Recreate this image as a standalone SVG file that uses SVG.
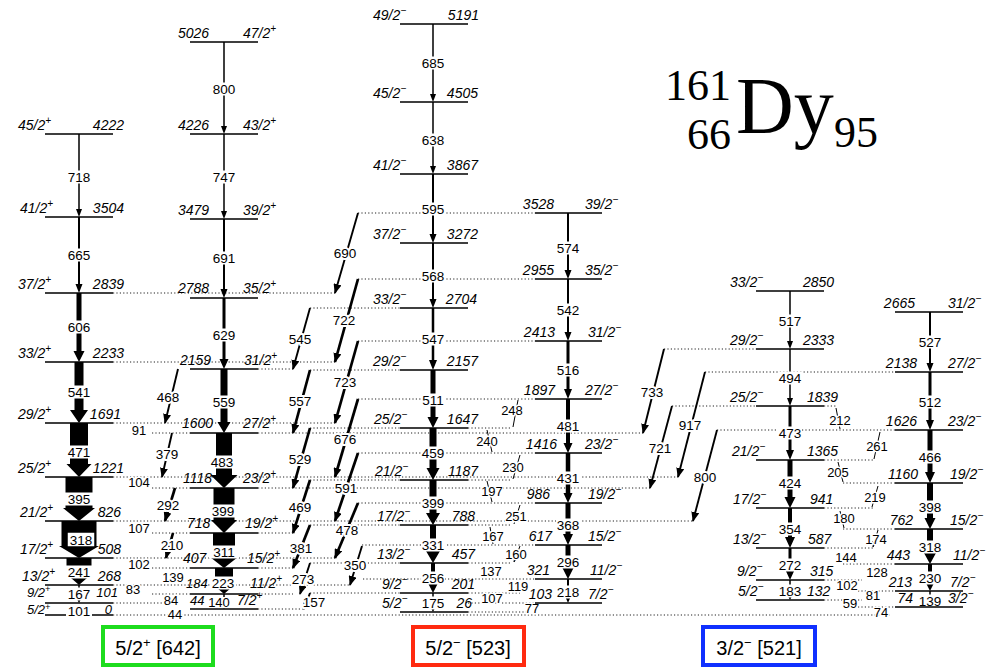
<svg xmlns="http://www.w3.org/2000/svg" width="990" height="667" viewBox="0 0 990 667">
<defs>
<marker id="ah" viewBox="0 0 10 8" refX="9" refY="4" markerWidth="10" markerHeight="8" markerUnits="userSpaceOnUse" orient="auto"><path d="M0,0L10,4L0,8z"/></marker>
<marker id="as" viewBox="0 0 10 8" refX="9" refY="4" markerWidth="6" markerHeight="5" markerUnits="userSpaceOnUse" orient="auto"><path d="M0,0L10,4L0,8z"/></marker>
<style>
.lv{stroke:#000;stroke-width:1.6;fill:none}
.dt{stroke:#222;stroke-width:1;stroke-dasharray:1.2 2.2;fill:none}
.e1{stroke:#000;stroke-width:1.9;fill:none;marker-end:url(#ah)}
.e1t{stroke:#000;stroke-width:2.7;fill:none;marker-end:url(#ah)}
.tk{stroke:#000;stroke-width:1;fill:none;marker-end:url(#as)}
.wb{fill:#fff}
text{font-family:"Liberation Sans",Arial,sans-serif;fill:#000}
.en{font-size:14px;font-style:italic}
.sp{font-size:14px;font-style:italic}
.tl{font-size:13.5px;text-anchor:middle}
.el{font-size:13.5px;text-anchor:middle;stroke:#fff;stroke-width:4;paint-order:stroke;stroke-linejoin:round}
.sm{font-size:13px;text-anchor:middle;stroke:#fff;stroke-width:3;paint-order:stroke;stroke-linejoin:round}
.end{text-anchor:end}
.ti{font-family:"Liberation Serif","Times New Roman",serif}
.bx{fill:none;stroke-width:4}
.bt{font-size:20px;text-anchor:middle}
</style>
</defs>
<rect width="990" height="667" fill="#fff"/>

<g id="connectors">
<path class="dt" d="M113 293H335M113 362H335M113 423H335M113 477H678M113 521H693M113 558H335M113 585H350M113 603H165M113 615H890
M152 433H190M152 488H190M152 533H190M152 568H190M152 594H190
M258 369H293M258 433H643M258 488H650M258 533H293M258 568H293M258 594H293M258 609H304
M310 308H400M310 370H400M310 428H400M310 480H400M310 525H400M310 563H400M310 593H400
M468 428H512M468 480H512M468 525H512M468 563H512M468 593H520M468 612H528
M358 213H535M358 279H535M358 341H535M358 399H535M358 453H535M358 503H535M362 545H535M363 579H535M468 603H535
M664 349H756M672 406H756
M705 372H895M717 430H895M843 483H895M843 529H895M843 564H895M858 591H895M858 607H895
M824 406H836M824 460H873M824 508H873M824 548H873M824 580H862M824 600H862"/>

<!-- band 1 transitions -->
<polygon points="78.25,134 79.75,134 79.75,209 82,209 79,217 76,209 78.25,209"/>
<polygon points="78,217 80,217 80,284 82.5,284 79,293 75.5,284 78,284"/>
<polygon points="76.5,293 81.5,293 81.5,351 84.5,351 79,362 73.5,351 76.5,351"/>
<polygon points="74.5,362 83.5,362 83.5,410 88,410 79,423 70,410 74.5,410"/>
<polygon points="70,423 88,423 88,464 91.5,464 79,477 66.5,464 70,464"/>
<polygon points="65.5,477 92.5,477 92.5,508 95,508 79,521 63,508 65.5,508"/>
<polygon points="61.5,521 96.5,521 96.5,546 99,546 79,558 59,546 61.5,546"/>
<polygon points="66.5,558 91.5,558 91.5,578 87,578 79,585 71,578 66.5,578"/>
<polygon points="78.25,585 79.75,585 79.75,597 82,597 79,603 76,597 78.25,597"/>
<!-- band 2 transitions -->
<polygon points="223.25,42 224.75,42 224.75,126 227,126 224,134 221,126 223.25,126"/>
<polygon points="223.25,134 224.75,134 224.75,211 227,211 224,219 221,211 223.25,211"/>
<polygon points="223,219 225,219 225,289 227.5,289 224,298 220.5,289 223,289"/>
<polygon points="222.5,298 225.5,298 225.5,359 228.5,359 224,369 219.5,359 222.5,359"/>
<polygon points="220.5,369 227.5,369 227.5,422 230.5,422 224,433 217.5,422 220.5,422"/>
<polygon points="216,433 232,433 232,475 237.5,475 224,488 210.5,475 216,475"/>
<polygon points="213.5,488 234.5,488 234.5,520 237,520 224,533 211,520 213.5,520"/>
<polygon points="213,533 235,533 235,557 238,557 224,568 210,557 213,557"/>
<polygon points="215,568 233,568 233,587 232,587 224,594 216,587 215,587"/>
<polygon points="223.25,594 224.75,594 224.75,604 226.5,604 224,609 221.5,604 223.25,604"/>
<!-- band 3 transitions -->
<polygon points="432.25,24 433.75,24 433.75,94 436,94 433,102 430,94 432.25,94"/>
<polygon points="432.25,102 433.75,102 433.75,166 436,166 433,174 430,166 432.25,166"/>
<polygon points="432,174 434,174 434,234 436.5,234 433,243 429.5,234 432,234"/>
<polygon points="432,243 434,243 434,299 436.5,299 433,308 429.5,299 432,299"/>
<polygon points="431.75,308 434.25,308 434.25,360 437,360 433,370 429,360 431.75,360"/>
<polygon points="430.5,370 435.5,370 435.5,417 438.5,417 433,428 427.5,417 430.5,417"/>
<polygon points="429.5,428 436.5,428 436.5,468 439.5,468 433,480 426.5,468 429.5,468"/>
<polygon points="429.5,480 436.5,480 436.5,513 440,513 433,525 426,513 429.5,513"/>
<polygon points="430,525 436,525 436,551 440,551 433,563 426,551 430,551"/>
<polygon points="431,563 435,563 435,584 437.5,584 433,593 428.5,584 431,584"/>
<polygon points="432.25,593 433.75,593 433.75,607 435.5,607 433,612 430.5,607 432.25,607"/>
<!-- band 4 transitions -->
<polygon points="567,213 569,213 569,270 571.5,270 568,279 564.5,270 567,270"/>
<polygon points="567,279 569,279 569,332 571.5,332 568,341 564.5,332 567,332"/>
<polygon points="566.5,341 569.5,341 569.5,389 572,389 568,399 564,389 566.5,389"/>
<polygon points="566,399 570,399 570,443 572.5,443 568,453 563.5,443 566,443"/>
<polygon points="565.75,453 570.25,453 570.25,493 572.5,493 568,503 563.5,493 565.75,493"/>
<polygon points="565.5,503 570.5,503 570.5,534 573,534 568,545 563,534 565.5,534"/>
<polygon points="565.5,545 570.5,545 570.5,568 573.5,568 568,579 562.5,568 565.5,568"/>
<polygon points="567,579 569,579 569,596 571,596 568,603 565,596 567,596"/>
<!-- band 5 transitions -->
<polygon points="789.25,291 790.75,291 790.75,341 793,341 790,349 787,341 789.25,341"/>
<polygon points="789.25,349 790.75,349 790.75,398 793,398 790,406 787,398 789.25,398"/>
<polygon points="788.5,406 791.5,406 791.5,450 794,450 790,460 786,450 788.5,450"/>
<polygon points="787.5,460 792.5,460 792.5,497 795.5,497 790,508 784.5,497 787.5,497"/>
<polygon points="788,508 792,508 792,537 795,537 790,548 785,537 788,537"/>
<polygon points="788.5,548 791.5,548 791.5,569 795,569 790,580 785,569 788.5,569"/>
<polygon points="789.25,580 790.75,580 790.75,595 792.5,595 790,600 787.5,595 789.25,595"/>
<!-- band 6 transitions -->
<polygon points="929,312 931,312 931,363 933.5,363 930,372 926.5,363 929,363"/>
<polygon points="928.5,372 931.5,372 931.5,420 934,420 930,430 926,420 928.5,420"/>
<polygon points="927.5,430 932.5,430 932.5,472 935,472 930,483 925,472 927.5,472"/>
<polygon points="927,483 933,483 933,518 935.5,518 930,529 924.5,518 927,518"/>
<polygon points="927,529 933,529 933,553 936,553 930,564 924,553 927,553"/>
<polygon points="928,564 932,564 932,583 934,583 930,591 926,583 928,583"/>
<polygon points="929.25,591 930.75,591 930.75,602 932.5,602 930,607 927.5,602 929.25,602"/>

<!-- E1 / interband transitions -->
<path class="e1" d="M358 213L335 293"/>
<path class="e1" d="M310 308L293 369"/>
<path class="e1t" d="M358 279L335 362"/>
<path class="e1t" d="M310 370L293 433"/>
<path class="e1t" d="M358 341L335 423"/>
<path class="e1t" d="M310 428L293 488"/>
<path class="e1t" d="M358 399L335 477"/>
<path class="e1t" d="M310 480L293 533"/>
<path class="e1t" d="M358 453L335 521"/>
<path class="e1t" d="M310 525L293 568"/>
<path class="e1t" d="M358 503L335 558"/>
<path class="e1" d="M310 563L300 594"/>
<path class="e1" d="M362 546L350 585"/>
<path class="e1" d="M310 593L304 609"/>
<path class="e1" d="M178 369L165 423"/>
<path class="e1" d="M172 433L162 477"/>
<path class="e1t" d="M175 488L165 521"/>
<path class="e1t" d="M173 533L166 558"/>
<path class="e1" d="M664 349L643 433"/>
<path class="e1" d="M672 406L650 488"/>
<path class="e1" d="M705 372L678 477"/>
<path class="e1" d="M717 430L693 521"/>
<path class="tk" d="M518 400L513 427M487 430L492 452M520 455L513 479M487 481L492 502M520 505L514 524M490 527L493 544M520 546L514 562"/>
<path class="tk" d="M836 408L840 429M880 432L874 459M838 462L843 482M878 486L872 507M840 511L844 528M878 530L873 547"/>

<!-- white label backgrounds -->
<g class="wb">
<rect x="67" y="170.5" width="24" height="13"/><rect x="67" y="248.5" width="24" height="13"/><rect x="67" y="320.5" width="24" height="13"/><rect x="67" y="385.5" width="24" height="13"/><rect x="66" y="445.5" width="26" height="13"/><rect x="64" y="492.5" width="30" height="13"/><rect x="65" y="565.5" width="28" height="13"/><rect x="67" y="587.5" width="24" height="13"/><rect x="67" y="604.5" width="24" height="13"/>
<rect x="212" y="82.5" width="24" height="13"/><rect x="212" y="170.5" width="24" height="13"/><rect x="212" y="251.5" width="24" height="13"/><rect x="212" y="328.5" width="24" height="13"/><rect x="212" y="395.5" width="24" height="13"/><rect x="209" y="455.5" width="28" height="13"/><rect x="209" y="504.5" width="29" height="13"/><rect x="209" y="545.5" width="30" height="13"/><rect x="210" y="576.5" width="26" height="13"/><rect x="207" y="597" width="24" height="11"/>
<rect x="421" y="56.5" width="24" height="13"/><rect x="421" y="133.5" width="24" height="13"/><rect x="421" y="202.5" width="24" height="13"/><rect x="421" y="269.5" width="24" height="13"/><rect x="421" y="332.5" width="24" height="13"/><rect x="421" y="393.5" width="24" height="13"/><rect x="421" y="446.5" width="24" height="13"/><rect x="421" y="496.5" width="24" height="13"/><rect x="421" y="538.5" width="24" height="13"/><rect x="421" y="571.5" width="24" height="13"/><rect x="421" y="596.5" width="24" height="13"/>
<rect x="556" y="241.5" width="24" height="13"/><rect x="556" y="303.5" width="24" height="13"/><rect x="556" y="363.5" width="24" height="13"/><rect x="556" y="419.5" width="24" height="13"/><rect x="556" y="471.5" width="24" height="13"/><rect x="556" y="518.5" width="24" height="13"/><rect x="556" y="555.5" width="24" height="13"/><rect x="556" y="585.5" width="24" height="13"/>
<rect x="778" y="314.5" width="24" height="13"/><rect x="778" y="371.5" width="24" height="13"/><rect x="778" y="426.5" width="24" height="13"/><rect x="778" y="476.5" width="24" height="13"/><rect x="778" y="522.5" width="24" height="13"/><rect x="778" y="558.5" width="24" height="13"/><rect x="778" y="584.5" width="24" height="13"/>
<rect x="918" y="335.5" width="24" height="13"/><rect x="918" y="395.5" width="24" height="13"/><rect x="918" y="450.5" width="24" height="13"/><rect x="918" y="500.5" width="24" height="13"/><rect x="918" y="540.5" width="24" height="13"/><rect x="918" y="571.5" width="24" height="13"/><rect x="918" y="594.5" width="24" height="13"/>
</g>
<rect x="67" y="532" width="28" height="15" fill="#fff" stroke="#000" stroke-width="1.5"/>

<!-- transition labels -->
<g class="tl">
<text x="79" y="182">718</text><text x="79" y="260">665</text><text x="79" y="332">606</text><text x="79" y="397">541</text><text x="79" y="457">471</text><text x="79" y="504">395</text><text x="81" y="545">318</text><text x="79" y="577">241</text><text x="79" y="599">167</text><text x="79" y="616">101</text>
<text x="224" y="94">800</text><text x="224" y="182">747</text><text x="224" y="263">691</text><text x="224" y="340">629</text><text x="224" y="407">559</text><text x="222" y="467">483</text><text x="223" y="516">399</text><text x="224" y="557">311</text><text x="223" y="588">223</text><text x="219" y="607" font-size="13">140</text>
<text x="433" y="68">685</text><text x="433" y="145">638</text><text x="433" y="214">595</text><text x="433" y="281">568</text><text x="433" y="344">547</text><text x="433" y="405">511</text><text x="433" y="458">459</text><text x="433" y="508">399</text><text x="433" y="550">331</text><text x="433" y="583">256</text><text x="433" y="608">175</text>
<text x="568" y="253">574</text><text x="568" y="315">542</text><text x="568" y="375">516</text><text x="568" y="431">481</text><text x="568" y="483">431</text><text x="568" y="530">368</text><text x="568" y="567">296</text><text x="568" y="597">218</text>
<text x="790" y="326">517</text><text x="790" y="383">494</text><text x="790" y="438">473</text><text x="790" y="488">424</text><text x="790" y="534">354</text><text x="790" y="570">272</text><text x="790" y="596">183</text>
<text x="930" y="347">527</text><text x="930" y="407">512</text><text x="930" y="462">466</text><text x="930" y="512">398</text><text x="930" y="552">318</text><text x="930" y="583">230</text><text x="930" y="606">139</text>
</g>
<g class="el">
<text x="345" y="258">690</text><text x="300" y="344">545</text><text x="344" y="325">722</text><text x="300" y="406">557</text><text x="345" y="387">723</text><text x="300" y="464">529</text><text x="345" y="444">676</text><text x="300" y="512">469</text><text x="346" y="493">591</text><text x="301" y="553">381</text><text x="347" y="535">478</text><text x="303" y="584">273</text><text x="355" y="570">350</text><text x="314" y="607">157</text>
<text x="168" y="402">468</text><text x="167" y="459">379</text><text x="168" y="510">292</text><text x="172" y="550">210</text>
<text x="652" y="397">733</text><text x="660" y="453">721</text><text x="690" y="430">917</text><text x="705" y="482">800</text>
</g>
<g class="sm">
<text x="139" y="435">91</text><text x="139" y="487">104</text><text x="139" y="533">107</text><text x="139" y="569">102</text><text x="133" y="594">83</text><text x="171" y="605">84</text><text x="175" y="619">44</text><text x="173" y="582">139</text>
<text x="512" y="415">248</text><text x="487" y="446">240</text><text x="513" y="472">230</text><text x="492" y="496">197</text><text x="516" y="521">251</text><text x="493" y="541">167</text><text x="516" y="559">160</text><text x="491" y="576">137</text><text x="518" y="591">119</text><text x="492" y="603">107</text><text x="532" y="613">77</text>
<text x="840" y="425">212</text><text x="877" y="451">261</text><text x="838" y="477">205</text><text x="875" y="502">219</text><text x="844" y="523">180</text><text x="876" y="544">174</text><text x="846" y="562">144</text><text x="877" y="577">128</text><text x="847" y="590">102</text><text x="873" y="600">81</text><text x="850" y="608">59</text><text x="881" y="617">74</text>
</g>
</g>

<g id="band1">
<path class="lv" d="M45 134H113M45 217H113M45 293H113M45 362H113M45 423H113M45 477H113M45 521H113M45 558H113M45 585H113M45 603H113M45 615H66M92 615H113"/>
<g class="sp">
<text x="18" y="130">45/2<tspan dy="-6" font-size="10">+</tspan></text>
<text x="20" y="213">41/2<tspan dy="-6" font-size="10">+</tspan></text>
<text x="18" y="289">37/2<tspan dy="-6" font-size="10">+</tspan></text>
<text x="18" y="358">33/2<tspan dy="-6" font-size="10">+</tspan></text>
<text x="18" y="419">29/2<tspan dy="-6" font-size="10">+</tspan></text>
<text x="18" y="473">25/2<tspan dy="-6" font-size="10">+</tspan></text>
<text x="20" y="517">21/2<tspan dy="-6" font-size="10">+</tspan></text>
<text x="20" y="554">17/2<tspan dy="-6" font-size="10">+</tspan></text>
<text x="22" y="581">13/2<tspan dy="-6" font-size="10">+</tspan></text>
<text x="27" y="597" font-size="13">9/2<tspan dy="-5" font-size="9">+</tspan></text>
<text x="27" y="614" font-size="13">5/2<tspan dy="-4" font-size="9">+</tspan></text>
</g>
<g class="en end">
<text x="124" y="130">4222</text><text x="124" y="213">3504</text><text x="124" y="289">2839</text><text x="124" y="358">2233</text><text x="121" y="419">1691</text><text x="124" y="473">1221</text><text x="121" y="517">826</text><text x="121" y="554">508</text><text x="121" y="581">268</text><text x="118" y="597" font-size="13">101</text><text x="112" y="614" font-size="13">0</text>
</g>
</g>

<g id="band2">
<path class="lv" d="M190 42H258M190 134H258M190 219H258M190 298H258M190 369H258M190 433H258M190 488H258M190 533H258M190 568H258M190 594H258M190 609H258"/>
<g class="en">
<text x="178" y="38">5026</text><text x="178" y="130">4226</text><text x="178" y="215">3479</text><text x="178" y="293">2788</text><text x="180" y="365">2159</text><text x="182" y="428">1600</text><text x="183" y="483">1118</text><text x="187" y="528">718</text><text x="183" y="563">407</text><text x="186" y="588" font-size="13">184</text><text x="190" y="605" font-size="13">44</text>
</g>
<g class="sp">
<text x="243" y="38">47/2<tspan dy="-6" font-size="10">+</tspan></text>
<text x="243" y="130">43/2<tspan dy="-6" font-size="10">+</tspan></text>
<text x="243" y="215">39/2<tspan dy="-6" font-size="10">+</tspan></text>
<text x="243" y="293">35/2<tspan dy="-6" font-size="10">+</tspan></text>
<text x="244" y="365">31/2<tspan dy="-6" font-size="10">+</tspan></text>
<text x="243" y="428">27/2<tspan dy="-6" font-size="10">+</tspan></text>
<text x="243" y="483">23/2<tspan dy="-6" font-size="10">+</tspan></text>
<text x="245" y="528">19/2<tspan dy="-6" font-size="10">+</tspan></text>
<text x="247" y="563">15/2<tspan dy="-6" font-size="10">+</tspan></text>
<text x="250" y="588">11/2<tspan dy="-6" font-size="10">+</tspan></text>
<text x="237" y="605">7/2<tspan dy="-6" font-size="10">+</tspan></text>
</g>
</g>

<g id="band3">
<path class="lv" d="M400 24H468M400 102H468M400 174H468M400 243H468M400 308H468M400 370H468M400 428H468M400 480H468M400 525H468M400 563H468M400 593H468M400 612H468"/>
<g class="sp">
<text x="373" y="20">49/2<tspan dy="-6" font-size="10">−</tspan></text>
<text x="373" y="98">45/2<tspan dy="-6" font-size="10">−</tspan></text>
<text x="373" y="170">41/2<tspan dy="-6" font-size="10">−</tspan></text>
<text x="373" y="239">37/2<tspan dy="-6" font-size="10">−</tspan></text>
<text x="373" y="304">33/2<tspan dy="-6" font-size="10">−</tspan></text>
<text x="373" y="366">29/2<tspan dy="-6" font-size="10">−</tspan></text>
<text x="374" y="424">25/2<tspan dy="-6" font-size="10">−</tspan></text>
<text x="375" y="476">21/2<tspan dy="-6" font-size="10">−</tspan></text>
<text x="377" y="521">17/2<tspan dy="-6" font-size="10">−</tspan></text>
<text x="377" y="559">13/2<tspan dy="-6" font-size="10">−</tspan></text>
<text x="382" y="589">9/2<tspan dy="-6" font-size="10">−</tspan></text>
<text x="382" y="608">5/2<tspan dy="-6" font-size="10">−</tspan></text>
</g>
<g class="en end">
<text x="479" y="20">5191</text><text x="478" y="98">4505</text><text x="478" y="170">3867</text><text x="478" y="239">3272</text><text x="477" y="304">2704</text><text x="478" y="366">2157</text><text x="478" y="424">1647</text><text x="478" y="476">1187</text><text x="475" y="521">788</text><text x="475" y="559">457</text><text x="475" y="589">201</text><text x="472" y="608">26</text>
</g>
</g>

<g id="band4">
<path class="lv" d="M535 213H602M535 279H602M535 341H602M535 399H602M535 453H602M535 503H602M535 545H602M535 579H602M535 603H602"/>
<g class="en end">
<text x="554" y="209">3528</text><text x="554" y="275">2955</text><text x="555" y="337">2413</text><text x="555" y="395">1897</text><text x="557" y="449">1416</text><text x="550" y="499">986</text><text x="552" y="541">617</text><text x="550" y="575">321</text><text x="552" y="599">103</text>
</g>
<g class="sp">
<text x="585" y="209">39/2<tspan dy="-6" font-size="10">−</tspan></text>
<text x="585" y="275">35/2<tspan dy="-6" font-size="10">−</tspan></text>
<text x="588" y="337">31/2<tspan dy="-6" font-size="10">−</tspan></text>
<text x="585" y="395">27/2<tspan dy="-6" font-size="10">−</tspan></text>
<text x="585" y="449">23/2<tspan dy="-6" font-size="10">−</tspan></text>
<text x="588" y="499">19/2<tspan dy="-6" font-size="10">−</tspan></text>
<text x="588" y="541">15/2<tspan dy="-6" font-size="10">−</tspan></text>
<text x="590" y="575">11/2<tspan dy="-6" font-size="10">−</tspan></text>
<text x="588" y="599">7/2<tspan dy="-6" font-size="10">−</tspan></text>
</g>
</g>

<g id="band5">
<path class="lv" d="M756 291H824M756 349H824M756 406H824M756 460H824M756 508H824M756 548H824M756 580H824M756 600H824"/>
<g class="sp">
<text x="730" y="287">33/2<tspan dy="-6" font-size="10">−</tspan></text>
<text x="730" y="345">29/2<tspan dy="-6" font-size="10">−</tspan></text>
<text x="730" y="402">25/2<tspan dy="-6" font-size="10">−</tspan></text>
<text x="732" y="456">21/2<tspan dy="-6" font-size="10">−</tspan></text>
<text x="733" y="504">17/2<tspan dy="-6" font-size="10">−</tspan></text>
<text x="733" y="544">13/2<tspan dy="-6" font-size="10">−</tspan></text>
<text x="737" y="576">9/2<tspan dy="-6" font-size="10">−</tspan></text>
<text x="738" y="596">5/2<tspan dy="-6" font-size="10">−</tspan></text>
</g>
<g class="en">
<text x="803" y="287">2850</text><text x="803" y="345">2333</text><text x="807" y="402">1839</text><text x="807" y="456">1365</text><text x="810" y="504">941</text><text x="808" y="544">587</text><text x="810" y="576">315</text><text x="807" y="596">132</text>
</g>
</g>

<g id="band6">
<path class="lv" d="M895 312H963M895 372H963M895 430H963M895 483H963M895 529H963M895 564H963M895 591H963M895 607H963"/>
<g class="en end">
<text x="915" y="308">2665</text><text x="917" y="368">2138</text><text x="917" y="426">1626</text><text x="918" y="479">1160</text><text x="913" y="525">762</text><text x="910" y="560">443</text><text x="912" y="587">213</text><text x="913" y="603">74</text>
</g>
<g class="sp">
<text x="948" y="308">31/2<tspan dy="-6" font-size="10">−</tspan></text>
<text x="948" y="368">27/2<tspan dy="-6" font-size="10">−</tspan></text>
<text x="948" y="426">23/2<tspan dy="-6" font-size="10">−</tspan></text>
<text x="950" y="479">19/2<tspan dy="-6" font-size="10">−</tspan></text>
<text x="950" y="525">15/2<tspan dy="-6" font-size="10">−</tspan></text>
<text x="953" y="560">11/2<tspan dy="-6" font-size="10">−</tspan></text>
<text x="950" y="587">7/2<tspan dy="-6" font-size="10">−</tspan></text>
<text x="948" y="603">3/2<tspan dy="-6" font-size="10">−</tspan></text>
</g>
</g>

<g id="title">
<text class="ti" x="731" y="100" font-size="44" text-anchor="end">161</text>
<text class="ti" x="731" y="149" font-size="44" text-anchor="end">66</text>
<text class="ti" x="736" y="133" font-size="80">Dy</text>
<text class="ti" x="834" y="147" font-size="44">95</text>
</g>

<g id="label-642">
<rect class="bx" x="103" y="627" width="110" height="38" stroke="#1ddc1d"/>
<text class="bt" x="158" y="655">5/2<tspan dy="-8" font-size="13">+</tspan><tspan dy="8"> [642]</tspan></text>
</g>
<g id="label-523">
<rect class="bx" x="413" y="627" width="111" height="38" stroke="#ff2a10"/>
<text class="bt" x="468" y="655">5/2<tspan dy="-8" font-size="13">−</tspan><tspan dy="8"> [523]</tspan></text>
</g>
<g id="label-521">
<rect class="bx" x="703" y="627" width="112" height="38" stroke="#1030ff"/>
<text class="bt" x="759" y="655">3/2<tspan dy="-8" font-size="13">−</tspan><tspan dy="8"> [521]</tspan></text>
</g>
</svg>
